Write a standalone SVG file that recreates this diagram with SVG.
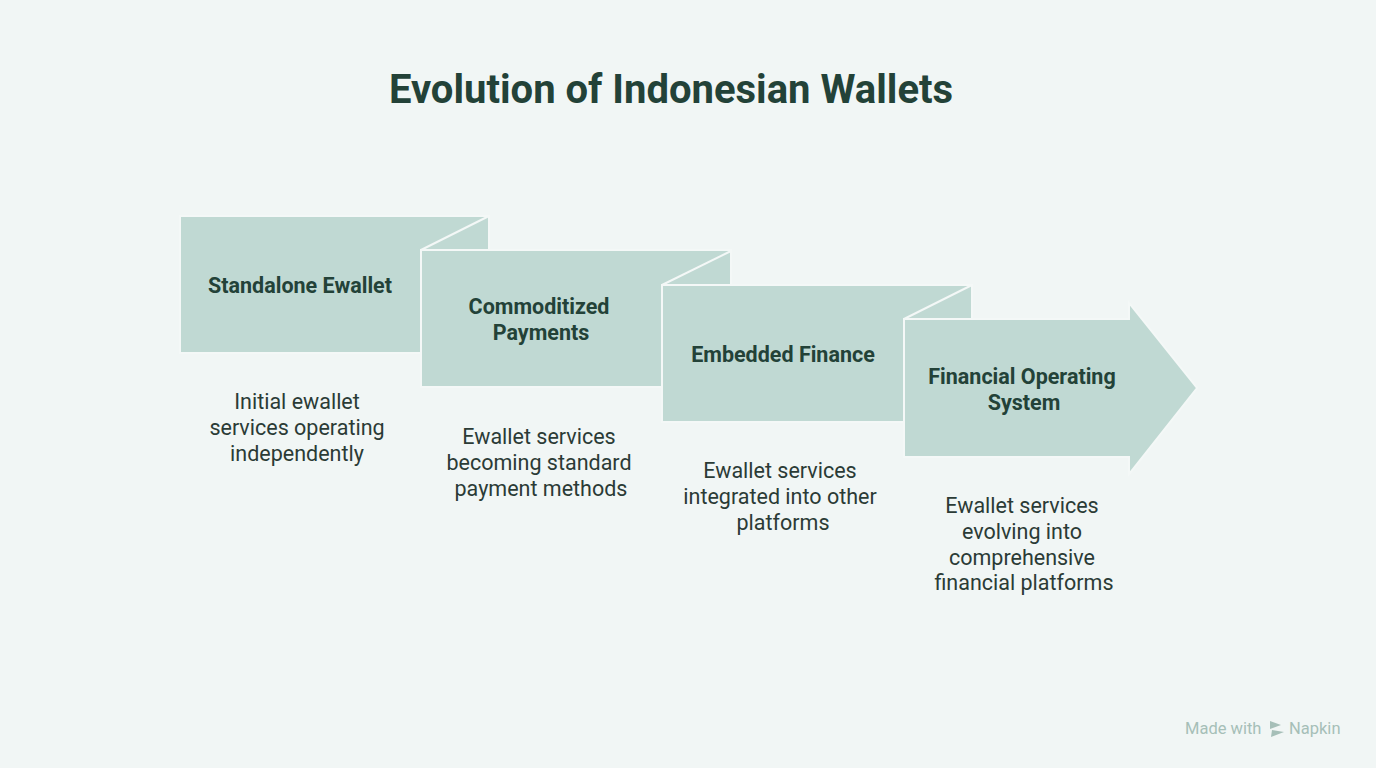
<svg xmlns="http://www.w3.org/2000/svg" width="1376" height="768" viewBox="0 0 1376 768">
<style>
.bg{fill:#f1f6f5}
.box{fill:#c0d9d3;stroke:#f4f8f7;stroke-width:2}
.fold{stroke:#f4f8f7;stroke-width:2;fill:none}
.title{font-family:Roboto,"Liberation Sans",sans-serif;font-weight:700;font-size:40px;fill:#234238;text-anchor:middle}
.lbl{font-family:Roboto,"Liberation Sans",sans-serif;font-weight:700;font-size:21.5px;fill:#234238;text-anchor:middle}
.desc{font-family:Roboto,"Liberation Sans",sans-serif;font-size:21.5px;fill:#2b3b36;text-anchor:middle}
.foot{font-family:Roboto,"Liberation Sans",sans-serif;font-size:16.5px;fill:#a6bfb8}
</style>
<rect class="bg" x="0" y="0" width="1376" height="768"/>
<text class="title" x="671" y="103">Evolution of Indonesian Wallets</text>
<g id="node1">
<rect class="box" x="180" y="216" width="309" height="137"/>
<text class="lbl" x="300" y="293">Standalone Ewallet</text>
<text class="desc" x="297" y="409">Initial ewallet</text>
<text class="desc" x="297" y="435">services operating</text>
<text class="desc" x="297" y="461">independently</text>
</g>
<g id="node2">
<rect class="box" x="421" y="250" width="310" height="137"/>
<line class="fold" x1="421" y1="250" x2="489" y2="216"/>
<text class="lbl" x="539" y="314">Commoditized</text>
<text class="lbl" x="541" y="340">Payments</text>
<text class="desc" x="539" y="444">Ewallet services</text>
<text class="desc" x="539" y="470">becoming standard</text>
<text class="desc" x="541" y="496">payment methods</text>
</g>
<g id="node3">
<rect class="box" x="662" y="285" width="310" height="137"/>
<line class="fold" x1="662" y1="285" x2="731" y2="251"/>
<text class="lbl" x="783" y="362">Embedded Finance</text>
<text class="desc" x="780" y="478">Ewallet services</text>
<text class="desc" x="780" y="504">integrated into other</text>
<text class="desc" x="783" y="530">platforms</text>
</g>
<g id="node4">
<path class="box" d="M904,319 H1129 V303 L1197,388 L1129,474 V457 H904 Z"/>
<line class="fold" x1="904" y1="319" x2="972" y2="285"/>
<text class="lbl" x="1022" y="384">Financial Operating</text>
<text class="lbl" x="1024" y="410">System</text>
<text class="desc" x="1022" y="513">Ewallet services</text>
<text class="desc" x="1022" y="539">evolving into</text>
<text class="desc" x="1022" y="565">comprehensive</text>
<text class="desc" x="1024" y="590">financial platforms</text>
</g>
<g id="connectors"></g>
<g id="footer">
<text class="foot" x="1185" y="734">Made with</text>
<path d="M1270,721 L1281,725 L1270,729 Z M1272,730 L1284,732 L1271,737 Z" fill="#a6bfb8"/>
<text class="foot" x="1289" y="734">Napkin</text>
</g>
</svg>
